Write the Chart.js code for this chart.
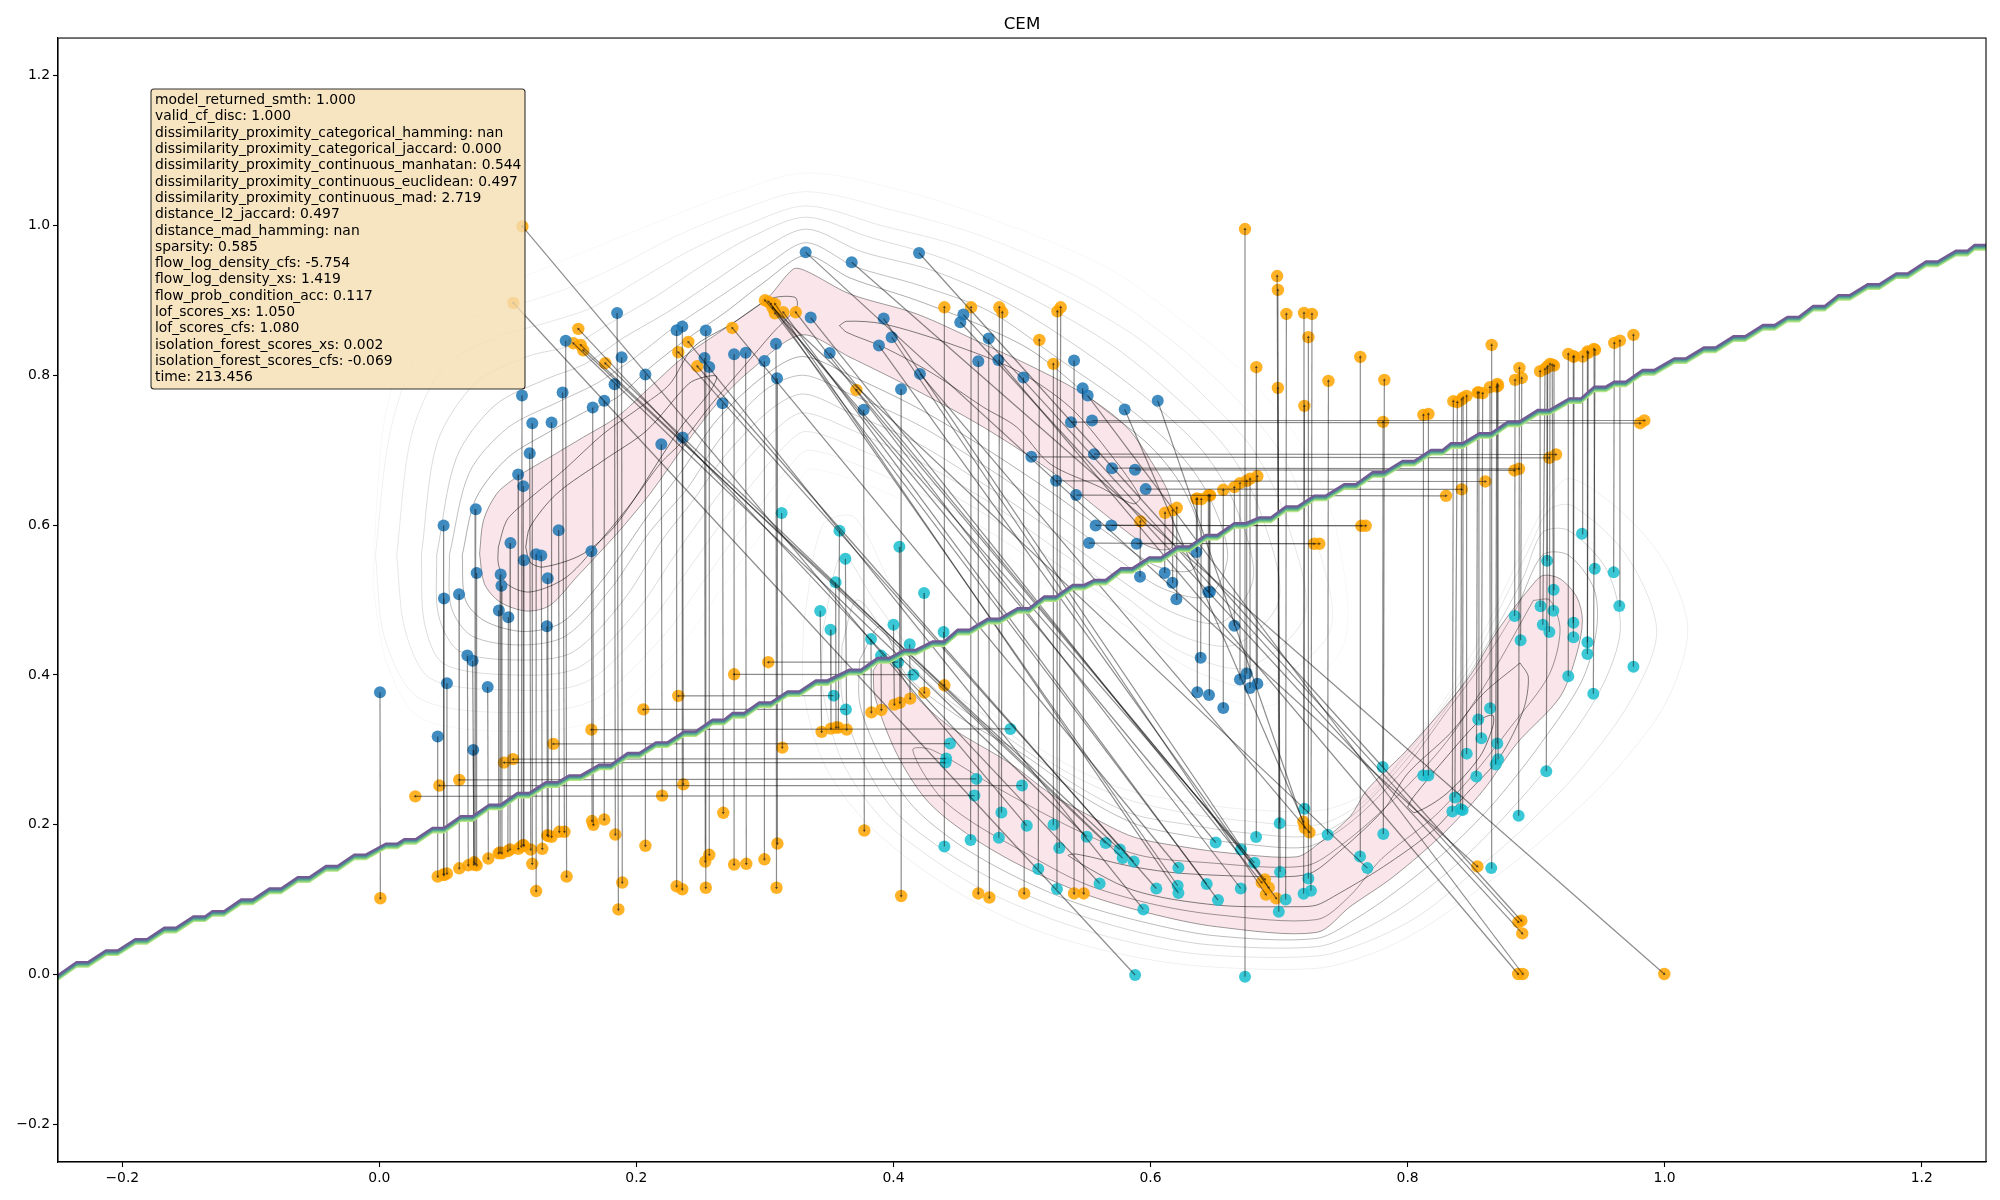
<!DOCTYPE html>
<html>
<head>
<meta charset="utf-8">
<title>CEM</title>
<script src="https://cdn.jsdelivr.net/npm/chart.js@4"></script>
<style>
    html, body { margin: 0; padding: 0; background: #fff; }
    canvas { display: block; }
</style>
</head>
<body>
<canvas id="cemChart" width="2000" height="1200"></canvas>
<script>
// ------------------ DATA ------------------
const xTicks = [-0.2, 0, 0.2, 0.4, 0.6, 0.8, 1.0, 1.2];
const yTicks = [-0.2, 0, 0.2, 0.4, 0.6, 0.8, 1.0, 1.2];

const boxLines = [
    'model_returned_smth: 1.000',
    'valid_cf_disc: 1.000',
    'dissimilarity_proximity_categorical_hamming: nan',
    'dissimilarity_proximity_categorical_jaccard: 0.000',
    'dissimilarity_proximity_continuous_manhatan: 0.544',
    'dissimilarity_proximity_continuous_euclidean: 0.497',
    'dissimilarity_proximity_continuous_mad: 2.719',
    'distance_l2_jaccard: 0.497',
    'distance_mad_hamming: nan',
    'sparsity: 0.585',
    'flow_log_density_cfs: -5.754',
    'flow_log_density_xs: 1.419',
    'flow_prob_condition_acc: 0.117',
    'lof_scores_xs: 1.050',
    'lof_scores_cfs: 1.080',
    'isolation_forest_scores_xs: 0.002',
    'isolation_forest_scores_cfs: -0.069',
    'time: 213.456'
];

// Each row: fromX, fromY, toX, toY (point -> counterfactual)
const blueDown = [
    [.0005,.377,.0008,.102],[.0454,.318,.0454,.131],[.0503,.502,.0503,.133],[.050,.5996,.05,.134],[.0526,.389,.0526,.135],
    [.062,.5076,.0622,.142],[.0685,.426,.0692,.146],[.0726,.419,.0737,.150],[.0731,.300,.0735,.147],[.075,.621,.0745,.148],
    [.0757,.536,.0757,.146],[.0843,.384,.0848,.155],[.093,.486,.0928,.162],[.0944,.534,.094,.163],[.095,.519,.0954,.162],
    [.1004,.477,.1,.165],[.102,.576,.1017,.167],[.108,.6675,.1082,.168],[.111,.773,.1105,.171],[.112,.652,.112,.173],
    [.1125,.553,.1125,.172],[.117,.696,.1178,.167],[.119,.736,.119,.148],[.122,.561,.122,.1116],[.126,.5595,.1268,.168],
    [.1304,.465,.1307,.186],[.131,.529,.1315,.185],[.134,.737,.134,.184],[.1395,.593,.14,.1907],[.1426,.777,.144,.1907],
    [.145,.846,.1457,.131],[.165,.565,.1655,.205],[.166,.757,.1665,.2],[.175,.766,.175,.207],[.183,.788,.1836,.187],
    [.185,.883,.186,.087],[.1885,.824,.189,.123],[.207,.801,.207,.172],[.2194,.708,.22,.239],[.2313,.86,.2313,.118],
    [.2357,.865,.2357,.114],[.236,.717,.2365,.254],[.253,.823,.2536,.151],[.254,.8596,.254,.116],[.2567,.811,.2567,.160],
    [.267,.7627,.2676,.216],[.276,.828,.276,.147],[.285,.83,.2855,.148],[.2996,.819,.2996,.154],[.3086,.842,.309,.116],
    [.3094,.796,.3097,.175],[.3768,.7538,.3773,.1924],[.4059,.7813,.406,.105],[.466,.8187,.466,.1084],[.4741,.8489,.4746,.103],
    [.5011,.7969,.5017,.1084],[.5405,.8196,.5405,.1084],[.5472,.7827,.548,.1084]
];
const blueUp = [
    [.5918,.5311,.5921,.6049],[.611,.536,.6113,.6164],[.617,.5231,.6172,.6196],[.6201,.5009,.6204,.6231],
    [.6357,.564,.6357,.6351],[.6364,.3769,.6364,.6351],[.639,.4231,.6395,.6345],[.6449,.5107,.645,.6396],
    [.6462,.5107,.6463,.6396],[.6455,.3733,.6458,.6396],[.6566,.356,.6566,.6471],[.6652,.4658,.6652,.6507],
    [.6696,.3938,.6696,.656],[.6748,.4018,.6748,.659],[.6774,.3827,.6774,.6618],[.6831,.3884,.6831,.6653]
];
const blueRight = [
    [.5381,.7373,.9809,.736],[.5545,.7396,.9842,.7396],[.556,.6947,.9155,.6942],[.5073,.6911,.9103,.6898],
    [.57,.676,.8867,.6751],[.5879,.6738,.8831,.6729],[.5265,.6591,.8605,.6582],[.5962,.648,.8421,.6476],
    [.5421,.64,.8299,.6391],[.5573,.5996,.7674,.5991],[.5695,.5996,.764,.5991],[.5522,.576,.7313,.5751],
    [.5892,.5751,.7273,.5751]
];
const blueDiagonal = [
    [.3317,.964,.8543,.1444],[.3675,.9507,.9997,.0009],[.4199,.9631,.8885,.072],[.4544,.8809,.8862,.0702],
    [.452,.8707,.8892,.0551],[.4816,.8204,.886,.0009],[.5511,.7729,.8896,.0009],[.5799,.7542,.7189,.204],
    [.6056,.7658,.72,.196],[.4206,.8018,.7236,.19],[.3356,.8769,.6865,.123],[.3504,.8298,.689,.127],
    [.3924,.8756,.692,.116],[.3986,.8507,.6898,.107],[.3887,.8396,.6978,.1018]
];
const cyanUp = [
    [.4396,.1711,.4396,.8907],[.46,.1796,.4604,.8907],[.482,.1827,.4824,.8907],[.484,.2164,.4847,.884],
    [.5245,.2,.5244,.8151],[.5272,.1142,.5275,.8853],[.529,.169,.5301,.8907],[.5127,.1409,.5135,.8471],
    [.6735,-.0027,.6735,.9951],[.6821,.1836,.6823,.8107],[.7008,.1369,.6991,.7831],[.6998,.084,.6991,.9138],
    [.7051,.1004,.7057,.8818],[.7005,.2022,.6985,.9324],[.7197,.2213,.7194,.8831],[.7378,.1867,.7384,.7924],
    [.7228,.1284,.7228,.8507],[.7191,.108,.7197,.7591],[.7248,.112,.7256,.8818],[.763,.1578,.7632,.8244],
    [.7811,.1876,.7819,.7938],[.7806,.2773,.7809,.7378],[.8122,.2658,.8123,.7471],[.8162,.2658,.8162,.7484],
    [.8348,.2178,.8356,.7653],[.8368,.2364,.8387,.764],[.8413,.2209,.8421,.7676],[.8428,.2196,.8432,.77],
    [.846,.295,.8459,.7724],[.8535,.2644,.8545,.7769],[.855,.3404,.8555,.777],[.8574,.3156,.8584,.776],
    [.8642,.3556,.8641,.784],[.8651,.1422,.8654,.8404],[.8685,.2804,.8693,.7849],[.8698,.3084,.8698,.7884],
    [.8704,.2876,.8704,.786],[.8833,.4787,.8836,.7938],[.8864,.212,.887,.8098],[.8879,.4462,.8888,.7964],
    [.9035,.4916,.9031,.8053],[.9052,.4671,.9069,.8084],[.9085,.5524,.9085,.81],[.9079,.2716,.909,.812],
    [.9103,.4573,.9108,.8151],[.9134,.4858,.9125,.814],[.9136,.5138,.9139,.8129],[.925,.3982,.925,.8284],
    [.929,.4698,.9289,.8249],[.929,.4502,.9295,.825],[.9357,.5884,.9362,.8249],[.9399,.4436,.9399,.8316],
    [.9399,.428,.9405,.83],[.9445,.375,.9458,.8338],[.9456,.5418,.945,.835],[.9603,.5369,.9608,.8431],
    [.9647,.492,.9652,.8462],[.9757,.4111,.9757,.8538]
];
const cyanDown = [
    [.313,.616,.3135,.303],[.343,.4853,.3441,.324],[.351,.4604,.3514,.3284],[.355,.5236,.3553,.3298],
    [.358,.5924,.3571,.3298],[.3626,.555,.3636,.3271],[.3825,.448,.3828,.35],[.3903,.4258,.3906,.3533],
    [.4,.467,.4007,.3604],[.4046,.571,.405,.363],[.4126,.441,.413,.3684],[.4238,.5093,.424,.3764],
    [.439,.4573,.4396,.3862]
];
const cyanLeft = [
    [.3535,.3724,.2326,.372],[.363,.354,.2054,.354],[.4035,.417,.3026,.417],[.4155,.4004,.276,.4009],
    [.491,.328,.165,.327],[.444,.3084,.1354,.308],[.441,.2884,.104,.2876],[.4406,.283,.097,.283],
    [.4645,.2613,.0622,.26],[.5,.2524,.0467,.2524],[.463,.239,.028,.238]
];
const cyanDiagonal = [
    [.5037,.1987,.1113,.9986],[.588,-.0004,.1043,.8964],[.5604,.1218,.1548,.8618],[.5504,.184,.1509,.8427],
    [.5651,.1756,.1566,.8404],[.5761,.167,.1587,.8333],[.5783,.1556,.1758,.816],[.5869,.151,.2326,.8307],
    [.5944,.0871,.2404,.8444],[.6045,.115,.2474,.812],[.6217,.1427,.2746,.8631],[.6507,.1764,.3026,.8982],
    [.6211,.1187,.3045,.8955],[.6217,.1089,.3078,.8951],[.6437,.1209,.3078,.8827],[.6525,.0996,.3143,.884],
    [.6702,.115,.324,.884],[.6704,.167,.3711,.7804],[.6808,.1493,.3,.9],[.7687,.1422,.306,.89]
];

const pinkTop = [
    [.078,.5618],[.0817,.5218],[.0939,.4973],[.1146,.4853],[.1328,.4929],[.1535,.5307],[.1847,.5884],[.2106,.6418],[.2365,.704],
    [.2625,.7618],[.2885,.8062],[.3286,.8538],[.3662,.824],[.4181,.7796],[.47,.7307],[.5218,.6729],[.5607,.6196],[.5944,.5751],
    [.6074,.5671],[.6165,.5707],[.6157,.6329],[.6048,.6729],[.5815,.7307],[.5477,.7751],[.5088,.8107],[.4699,.8418],[.4181,.8818],
    [.3662,.9084],[.3325,.9387],[.3222,.9418],[.3013,.9018],[.2702,.864],[.2365,.824],[.2106,.784],[.1847,.744],[.1587,.7173],
    [.1328,.6907],[.1068,.664],[.0913,.6418],[.081,.6062]
];
const pinkLow = [
    [.3843,.4062],[.3947,.4284],[.4155,.3751],[.4441,.3307],[.491,.2818],[.5218,.2418],[.5493,.2151],[.5864,.184],[.625,.1707],
    [.664,.1618],[.7137,.1573],[.7293,.1729],[.7551,.2107],[.7682,.2462],[.7993,.2996],[.846,.3929],[.8719,.464],[.8979,.5218],
    [.9056,.5329],[.9186,.5284],[.9316,.504],[.936,.4729],[.9316,.4284],[.9186,.3707],[.8849,.3084],[.8589,.2462],[.8278,.1884],
    [.7889,.1307],[.7552,.0907],[.7293,.0564],[.6514,.064],[.5996,.0818],[.5477,.1084],[.4958,.1484],[.4569,.1884],[.4258,.2329],
    [.4025,.2951],[.3856,.3707]
];
const innerTopA = [
    [.0926,.5707],[.0991,.6062],[.112,.6284],[.1432,.6729],[.1743,.7218],[.2067,.7618],[.2261,.7884],[.2443,.8373],[.2741,.8684],
    [.3039,.9018],[.3234,.904],[.3247,.8907],[.3065,.8573],[.2832,.8107],[.2586,.7618],[.2365,.7129],[.2184,.6818],[.1976,.6329],
    [.1743,.584],[.1457,.5307],[.1172,.5107],[.0991,.5218],[.0926,.5484]
];
const innerTopB = [
    [.1139,.5707],[.1172,.5973],[.138,.6418],[.1743,.6862],[.208,.7262],[.2405,.7884],[.2521,.7973],[.2624,.7982],[.256,.7751],
    [.2365,.7351],[.2209,.6951],[.1847,.6018],[.1587,.5618],[.1276,.544],[.1172,.5507]
];
const innerTopC = [
    [.3579,.8662],[.3636,.872],[.3924,.8684],[.4443,.8418],[.4959,.8062],[.5374,.7573],[.5685,.6951],[.5918,.6373],[.5866,.6284],
    [.5607,.6507],[.5218,.6818],[.4959,.7307],[.47,.7573],[.431,.8018],[.3924,.8373],[.3636,.8573]
];
const innerLowA = [
    [.8,.224],[.8058,.2164],[.8304,.2418],[.8561,.2907],[.8662,.3307],[.8662,.3462],[.8563,.3396],[.8304,.2907],[.8046,.2373]
];
const innerLowB = [
    [.8875,.416],[.8939,.3973],[.89,.3529],[.8719,.2907],[.846,.2418],[.8201,.1929],[.7811,.144],[.7422,.104],[.7293,.0929],
    [.7163,.0907],[.6514,.0929],[.5864,.1129],[.5361,.1587],[.5426,.1609],[.5864,.144],[.625,.1351],[.7008,.1307],[.7241,.1351],
    [.7422,.1573],[.7811,.2196],[.8,.2684],[.833,.3218],[.8589,.3751]
];
const innerLowC = [
    [.8979,.4996],[.9108,.4996],[.9186,.46],[.91,.40],[.88,.33],[.85,.265],[.82,.21],[.78,.155],[.755,.105],[.7293,.0735],[.6514,.08],
    [.5996,.095],[.5477,.122],[.5,.165],[.46,.205],[.435,.24],[.415,.30],[.43,.30],[.48,.25],[.54,.195],[.59,.16],[.64,.15],
    [.72,.145],[.75,.175],[.79,.235],[.83,.31],[.865,.40]
];
const topRing1 = [
    [.0645,.56],[.067,.50],[.082,.472],[.112,.458],[.142,.47],[.175,.53],[.21,.615],[.2365,.675],[.2625,.74],[.30,.80],[.329,.825],
    [.366,.80],[.418,.757],[.47,.704],[.522,.645],[.574,.58],[.605,.545],[.632,.54],[.64,.58],[.625,.65],[.60,.705],[.56,.76],
    [.51,.83],[.47,.865],[.418,.90],[.366,.93],[.332,.96],[.30,.925],[.27,.885],[.2365,.845],[.2106,.81],[.1847,.77],[.1587,.75],
    [.1328,.725],[.10,.69],[.075,.635]
];
const topRing2 = [
    [.0545,.56],[.056,.49],[.072,.452],[.11,.44],[.145,.452],[.18,.515],[.21,.59],[.24,.65],[.265,.715],[.30,.78],[.33,.80],
    [.366,.775],[.418,.735],[.47,.68],[.522,.62],[.574,.555],[.61,.515],[.645,.505],[.66,.56],[.645,.64],[.62,.70],[.58,.76],
    [.53,.82],[.475,.885],[.42,.92],[.37,.945],[.332,.977],[.30,.945],[.265,.905],[.23,.865],[.20,.825],[.17,.79],[.14,.765],
    [.10,.73],[.07,.67]
];
const topRing3 = [
    [.0446,.56],[.046,.48],[.062,.432],[.108,.42],[.15,.43],[.19,.50],[.22,.58],[.245,.635],[.27,.695],[.305,.755],[.33,.775],
    [.366,.75],[.418,.71],[.47,.655],[.522,.595],[.574,.53],[.615,.485],[.655,.47],[.68,.53],[.665,.63],[.64,.70],[.60,.765],
    [.55,.83],[.49,.895],[.43,.94],[.375,.965],[.332,.995],[.295,.965],[.26,.925],[.225,.885],[.19,.85],[.16,.815],[.13,.795],
    [.09,.76],[.06,.69]
];
const topRing4 = [
    [.0327,.56],[.035,.47],[.05,.415],[.105,.40],[.155,.41],[.20,.485],[.23,.56],[.255,.62],[.28,.675],[.31,.73],[.33,.75],
    [.37,.725],[.42,.685],[.475,.63],[.525,.57],[.58,.505],[.62,.455],[.665,.44],[.70,.50],[.685,.62],[.66,.70],[.62,.77],
    [.57,.84],[.51,.90],[.44,.955],[.38,.985],[.332,1.011],[.29,.985],[.25,.945],[.215,.905],[.18,.87],[.15,.84],[.115,.825],
    [.075,.79],[.045,.71]
];
const topRing5 = [
    [.0135,.56],[.02,.46],[.04,.395],[.10,.38],[.16,.39],[.21,.47],[.24,.54],[.265,.60],[.29,.655],[.315,.705],[.332,.725],
    [.375,.70],[.425,.66],[.48,.605],[.53,.545],[.585,.48],[.625,.43],[.675,.41],[.72,.48],[.705,.61],[.68,.70],[.64,.775],
    [.59,.85],[.53,.91],[.455,.97],[.39,1.0],[.332,1.026],[.285,1.0],[.24,.965],[.20,.925],[.165,.89],[.13,.87],[.09,.85],
    [.05,.81],[.025,.72]
];
const topRing6 = [
    [-.003,.56],[.004,.45],[.03,.37],[.095,.35],[.165,.365],[.22,.45],[.25,.52],[.275,.58],[.30,.635],[.32,.68],[.334,.70],
    [.38,.675],[.43,.635],[.485,.58],[.535,.52],[.59,.455],[.635,.405],[.685,.385],[.74,.46],[.725,.60],[.70,.70],[.66,.78],
    [.61,.855],[.55,.925],[.47,.985],[.40,1.02],[.332,1.045],[.28,1.02],[.23,.985],[.185,.945],[.145,.915],[.10,.89],[.06,.87],
    [.03,.83],[.008,.72]
];
const topRing7 = [
    [-.005,.52],[.005,.42],[.03,.345],[.09,.325],[.17,.34],[.23,.43],[.26,.50],[.285,.56],[.31,.615],[.325,.655],[.336,.675],
    [.385,.65],[.435,.61],[.49,.555],[.54,.495],[.595,.43],[.64,.38],[.695,.36],[.75,.44],[.745,.59],[.72,.70],[.68,.79],
    [.63,.865],[.57,.94],[.49,1.0],[.41,1.045],[.332,1.07],[.27,1.04],[.21,1.0],[.16,.965],[.11,.93],[.06,.90],[.025,.85],
    [.005,.75],[-.002,.63]
];
const lowRing1 = [
    [.3735,.42],[.39,.465],[.41,.40],[.45,.345],[.50,.295],[.55,.235],[.59,.20],[.63,.185],[.67,.175],[.72,.17],[.745,.19],
    [.77,.225],[.80,.28],[.83,.35],[.86,.42],[.885,.49],[.905,.56],[.925,.56],[.945,.515],[.947,.46],[.935,.39],[.90,.30],
    [.865,.225],[.83,.165],[.79,.11],[.76,.075],[.7293,.0484],[.65,.052],[.595,.07],[.54,.097],[.49,.135],[.45,.175],[.415,.225],
    [.39,.29],[.374,.36]
];
const lowRing2 = [
    [.36,.44],[.372,.50],[.40,.44],[.44,.37],[.49,.315],[.54,.255],[.585,.215],[.63,.20],[.67,.19],[.725,.185],[.755,.21],
    [.78,.25],[.81,.31],[.84,.38],[.865,.45],[.89,.53],[.905,.59],[.925,.593],[.955,.54],[.9655,.46],[.95,.38],[.915,.29],
    [.875,.21],[.84,.15],[.80,.095],[.765,.06],[.7293,.0373],[.645,.04],[.59,.057],[.535,.085],[.48,.125],[.44,.165],[.40,.22],
    [.375,.29],[.36,.37]
];
const lowRing3 = [
    [.345,.46],[.36,.56],[.385,.50],[.43,.40],[.48,.335],[.53,.275],[.58,.235],[.63,.215],[.675,.205],[.73,.20],[.765,.23],
    [.79,.275],[.82,.34],[.85,.415],[.875,.50],[.895,.57],[.91,.62],[.928,.626],[.97,.56],[.9938,.46],[.975,.37],[.935,.275],
    [.89,.195],[.85,.135],[.81,.08],[.77,.045],[.7293,.0249],[.64,.027],[.58,.045],[.525,.073],[.47,.113],[.43,.155],[.39,.21],
    [.36,.285],[.345,.38]
];
const lowRing4 = [
    [.33,.47],[.345,.60],[.37,.61],[.41,.48],[.47,.36],[.52,.295],[.575,.25],[.63,.23],[.68,.22],[.735,.22],[.775,.25],
    [.80,.30],[.83,.37],[.86,.46],[.885,.55],[.905,.62],[.925,.662],[.965,.62],[1.0,.55],[1.018,.46],[1.0,.36],[.955,.26],
    [.905,.18],[.86,.12],[.815,.065],[.775,.03],[.7293,.0084],[.635,.012],[.57,.03],[.51,.06],[.46,.10],[.415,.15],[.375,.21],
    [.345,.285],[.33,.38]
];

// Decision boundary: the flat parts of its staircase
const boundaryFlatX = [
    -.2551,-.2311,-.2082,-.1854,-.1628,-.1402,-.1254,-.103,-.081,-.059,-.037,-.015,.0096,.0239,.0459,.0679,.09,.112,.134,.1522,
    .1756,.1977,.2197,.2417,.2637,.2793,.3,.3221,.3441,.3701,.3921,.4128,.4349,.4544,.4778,.5011,.5218,.5439,.5607,.5815,.6035,
    .6255,.6476,.6696,.6891,.7098,.7319,.7552,.7772,.8006,.8227,.8382,.8603,.8824,.9057,.9303,.9497,.9652,.9873,1.012,1.035,
    1.058,1.081,1.1,1.12,1.1396,1.1624,1.1847,1.2078,1.2311,1.2455
];
const boundaryFlatY = [
    -.0045,.0138,.0293,.0444,.0596,.0747,.0818,.0973,.112,.127,.142,.1573,.172,.178,.193,.2084,.224,.2396,.2538,.263,
    .2773,.2929,.3071,.3218,.3373,.3462,.3604,.3751,.3898,.404,.4196,.4305,.4418,.4573,.472,.4862,.5018,.5173,.524,.5396,.5538,
    .5684,.584,.5996,.6071,.6218,.6364,.6516,.6676,.6827,.6973,.7062,.7196,.7351,.7507,.7662,.7818,.7884,.804,.8196,.834,
    .849,.864,.875,.8895,.904,.9184,.933,.9488,.9631,.9708
];
const boundaryLevels = [.0032, .0016, 0, -.0016, -.0032];

// ------------------ STYLE ------------------
const FONT = '"DejaVu Sans"';
const boundaryColors = ['#735a93', '#4f7b96', '#55a88f', '#7fcc7d', '#b5e585'];
const arrowColor = 'rgba(0,0,0,.45)';

const toPoints = rows => rows.map(r => ({ x: r[0], y: r[1] }));

function contourDataset(rows, alpha, fillColor) {
    const closed = rows.concat([rows[0]]);
    return {
        data: toPoints(closed),
        showLine: true,
        tension: 0.3,
        pointRadius: 0,
        borderWidth: 0.9,
        borderColor: `rgba(0,0,0,${alpha})`,
        backgroundColor: fillColor || 'transparent',
        fill: fillColor ? 'shape' : false,
        order: fillColor ? 120 : 100
    };
}

function arrowDataset(row) {
    return {
        data: [{ x: row[0], y: row[1] }, { x: row[2], y: row[3] }],
        showLine: true,
        borderColor: arrowColor,
        borderWidth: 1.2,
        pointRadius: [0, 1.7],
        pointStyle: 'triangle',
        pointBorderWidth: 0,
        pointBorderColor: 'transparent',
        pointBackgroundColor: 'rgba(30,30,30,.7)',
        // la pointe suit le sens de la ligne, en pixels
        pointRotation: ctx => {
            const { x, y } = ctx.chart.scales;
            const dx = x.getPixelForValue(row[2]) - x.getPixelForValue(row[0]);
            const dy = y.getPixelForValue(row[3]) - y.getPixelForValue(row[1]);
            return Math.atan2(dx, -dy) * 180 / Math.PI;
        },
        order: 50
    };
}

function markerDataset(points, color, radius) {
    return {
        data: points,
        pointRadius: radius,
        pointBorderWidth: 0,
        pointBorderColor: 'transparent',
        pointBackgroundColor: color,
        showLine: false,
        order: 60
    };
}

const blueRows = [...blueDown, ...blueUp, ...blueRight, ...blueDiagonal];
const cyanRows = [...cyanUp, ...cyanDown, ...cyanLeft, ...cyanDiagonal];
const allRows = [...blueRows, ...cyanRows];

const boundaryDatasets = boundaryLevels.map((level, i) => ({
    data: boundaryFlatX.flatMap((cx, k) => [
        { x: cx - .0045, y: boundaryFlatY[k] + level },
        { x: cx + .0045, y: boundaryFlatY[k] + level }
    ]),
    showLine: true,
    pointRadius: 0,
    borderWidth: 2,
    borderColor: boundaryColors[i],
    borderJoinStyle: 'miter',
    order: 10 + i
}));

const datasets = [
    contourDataset(pinkTop, .42, '#fae6ea'),
    contourDataset(pinkLow, .42, '#fae6ea'),
    contourDataset(innerTopA, .55),
    contourDataset(innerTopB, .6),
    contourDataset(innerTopC, .55),
    contourDataset(innerLowA, .6),
    contourDataset(innerLowB, .55),
    contourDataset(innerLowC, .42),
    contourDataset(topRing1, .36),
    contourDataset(topRing2, .28),
    contourDataset(topRing3, .22),
    contourDataset(topRing4, .16),
    contourDataset(topRing5, .11),
    contourDataset(topRing6, .07),
    contourDataset(topRing7, .04),
    contourDataset(lowRing1, .3),
    contourDataset(lowRing2, .2),
    contourDataset(lowRing3, .12),
    contourDataset(lowRing4, .07),
    markerDataset(toPoints(blueRows), 'rgba(31,119,180,.85)', 6),
    markerDataset(toPoints(cyanRows), 'rgba(23,190,207,.85)', 6),
    markerDataset(allRows.map(r => ({ x: r[2], y: r[3] })), 'rgba(255,165,0,.85)', 6.2),
    ...allRows.map(arrowDataset),
    ...boundaryDatasets
];

// ------------------ PLUGINS ------------------
// Cadre complet autour du graphique + encadré des métriques
const framePlugin = {
    id: 'frame',
    afterDraw(chart) {
        const { ctx, chartArea: a } = chart;
        ctx.save();
        ctx.strokeStyle = '#000';
        ctx.lineWidth = 1.1;
        ctx.strokeRect(a.left, a.top, a.right - a.left, a.bottom - a.top);

        ctx.beginPath();
        ctx.roundRect(151, 89, 374, 300, 3);
        ctx.fillStyle = 'rgba(245,222,179,.8)';
        ctx.fill();
        ctx.strokeStyle = 'rgba(0,0,0,.8)';
        ctx.lineWidth = 1.1;
        ctx.stroke();

        ctx.fillStyle = '#000';
        ctx.font = `13.9px ${FONT}`;
        ctx.textBaseline = 'middle';
        boxLines.forEach((line, i) => ctx.fillText(line, 155, 100.5 + i * 16.3));
        ctx.restore();
    }
};

// ------------------ CHART ------------------
function axis(min, max, ticks, isX) {
    return {
        type: 'linear',
        min: min,
        max: max,
        afterBuildTicks: scale => { scale.ticks = ticks.map(v => ({ value: v })); },
        afterFit: scale => {
            if (isX) scale.height = 38; else scale.width = 58;
        },
        grid: { drawOnChartArea: false, tickLength: 5, tickColor: '#000', tickWidth: 1.1 },
        border: { color: '#000', width: 1.1 },
        ticks: {
            color: '#000',
            autoSkip: false,
            maxRotation: 0,
            padding: 3,
            font: { family: FONT, size: 13.9 },
            callback: v => (v < 0 ? '\u2212' : '') + Math.abs(v).toFixed(1)
        }
    };
}

new Chart(document.getElementById('cemChart').getContext('2d'), {
    type: 'scatter',
    data: { datasets: datasets },
    options: {
        responsive: false,
        animation: false,
        events: [],
        layout: { padding: { right: 14, left: 0, top: 0, bottom: 0 } },
        plugins: {
            legend: { display: false },
            tooltip: { enabled: false },
            title: {
                display: true,
                text: 'CEM',
                color: '#000',
                fullSize: false,
                font: { family: FONT, size: 16.7, weight: 'normal' },
                padding: { top: 14.5, bottom: 3.5 }
            }
        },
        scales: {
            x: axis(-0.25, 1.25, xTicks, true),
            y: axis(-0.25, 1.25, yTicks, false)
        }
    },
    plugins: [framePlugin]
});
</script>
</body>
</html>
